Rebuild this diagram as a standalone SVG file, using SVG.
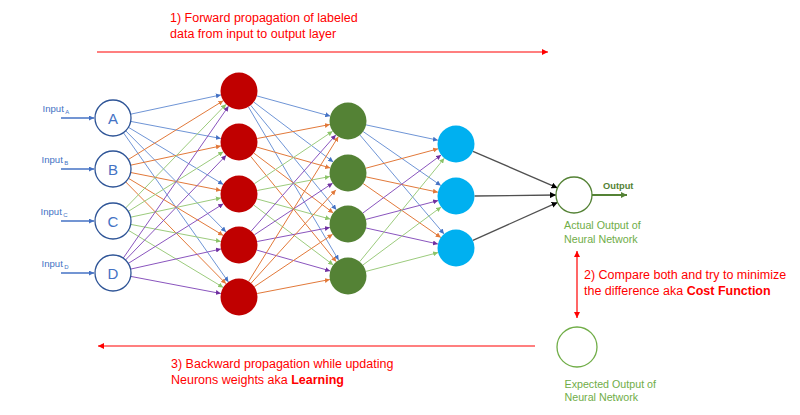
<svg xmlns="http://www.w3.org/2000/svg" width="800" height="415" viewBox="0 0 800 415">
<defs>
<style>
text{font-family:"Liberation Sans",Arial,sans-serif}
.note{fill:#ff0000;font-size:12.5px}
.b{font-weight:bold}
.lbl{fill:#70ad47;font-size:10.7px}
.inl{fill:#4472c4;font-size:9.6px}
.sub{font-size:6px}
.letter{fill:#4472c4;font-size:15px;text-anchor:middle}
.inode{fill:#fff;stroke:#2f5597;stroke-width:1.3}
.red{fill:#c00000}
.grn{fill:#548235}
.blu{fill:#00b0f0}
.c{fill:none;stroke-width:1}
.cb{stroke:#6f95d6;marker-end:url(#mb)}
.co{stroke:#e2793a;marker-end:url(#mo)}
.cg{stroke:#9ccb7d;marker-end:url(#mg)}
.cp{stroke:#8a55be;marker-end:url(#mp)}
.ck{stroke:#505050;stroke-width:1.3;marker-end:url(#mk)}
.cr{fill:none;stroke:#ff0000;stroke-width:1.2}
.ci{fill:none;stroke:#4472c4;stroke-width:1.3;marker-end:url(#mi)}
</style>
<marker id="mb" viewBox="0 0 6 6" refX="6" refY="3" markerWidth="5" markerHeight="5" markerUnits="userSpaceOnUse" orient="auto"><path d="M0,0L6,3L0,6z" fill="#4472c4"/></marker>
<marker id="mo" viewBox="0 0 6 6" refX="6" refY="3" markerWidth="5" markerHeight="5" markerUnits="userSpaceOnUse" orient="auto"><path d="M0,0L6,3L0,6z" fill="#e2793a"/></marker>
<marker id="mg" viewBox="0 0 6 6" refX="6" refY="3" markerWidth="5" markerHeight="5" markerUnits="userSpaceOnUse" orient="auto"><path d="M0,0L6,3L0,6z" fill="#8cc46a"/></marker>
<marker id="mp" viewBox="0 0 6 6" refX="6" refY="3" markerWidth="5" markerHeight="5" markerUnits="userSpaceOnUse" orient="auto"><path d="M0,0L6,3L0,6z" fill="#7030a0"/></marker>
<marker id="mk" viewBox="0 0 6 6" refX="6" refY="3" markerWidth="6" markerHeight="6" markerUnits="userSpaceOnUse" orient="auto"><path d="M0,0L6,3L0,6z" fill="#000"/></marker>
<marker id="mi" viewBox="0 0 6 6" refX="6" refY="3" markerWidth="5" markerHeight="5" markerUnits="userSpaceOnUse" orient="auto"><path d="M0,0L6,3L0,6z" fill="#4472c4"/></marker>
<marker id="mr" viewBox="0 0 6 6" refX="6" refY="3" markerWidth="6" markerHeight="6" markerUnits="userSpaceOnUse" orient="auto-start-reverse"><path d="M0,0L6,3L0,6z" fill="#ff0000"/></marker>
<marker id="mdg" viewBox="0 0 6 6" refX="6" refY="3" markerWidth="6" markerHeight="6" markerUnits="userSpaceOnUse" orient="auto"><path d="M0,0L6,3L0,6z" fill="#548235"/></marker>
</defs>
<rect width="800" height="415" fill="#fff"/>

<g id="connectors">
<!-- input arrows -->
<path class="ci" d="M61,118H94"/>
<path class="ci" d="M61,169H94"/>
<path class="ci" d="M61,221H94"/>
<path class="ci" d="M61,273H94"/>
<!-- A -->
<path class="c cb" d="M130.6,114.2L220.9,94.9"/>
<path class="c cb" d="M130.7,121.4L220.8,138.5"/>
<path class="c cb" d="M128.4,127.3L223.2,184.4"/>
<path class="c cb" d="M125.7,130.8L226.0,231.9"/>
<path class="c cb" d="M123.4,132.7L228.4,281.9"/>
<!-- B -->
<path class="c co" d="M128.3,159.5L223.3,100.7"/>
<path class="c co" d="M130.6,165.2L220.9,145.9"/>
<path class="c co" d="M130.7,172.5L220.9,190.4"/>
<path class="c co" d="M128.4,178.3L223.2,235.4"/>
<path class="c co" d="M125.6,181.8L226.0,283.8"/>
<!-- C -->
<path class="c cg" d="M125.5,208.1L226.1,104.3"/>
<path class="c cg" d="M128.3,211.4L223.3,151.8"/>
<path class="c cg" d="M130.6,217.2L220.9,197.9"/>
<path class="c cg" d="M130.7,224.4L220.8,241.5"/>
<path class="c cg" d="M128.4,230.3L223.2,287.4"/>
<!-- D -->
<path class="c cp" d="M123.2,258.2L228.5,106.2"/>
<path class="c cp" d="M125.5,260.0L226.2,155.3"/>
<path class="c cp" d="M128.3,263.4L223.3,203.8"/>
<path class="c cp" d="M130.6,269.1L220.9,249.0"/>
<path class="c cp" d="M130.7,276.4L220.8,293.5"/>
<!-- R1 -->
<path class="c cb" d="M256.8,95.9L330.2,116.1"/>
<path class="c cb" d="M253.8,102.1L333.2,161.9"/>
<path class="c cb" d="M250.7,105.3L336.3,209.7"/>
<path class="c cb" d="M248.4,106.9L338.6,260.1"/>
<!-- R2 -->
<path class="c co" d="M257.2,138.5L329.8,124.5"/>
<path class="c co" d="M256.8,147.1L330.2,167.9"/>
<path class="c co" d="M253.8,153.1L333.2,212.9"/>
<path class="c co" d="M250.7,156.4L336.3,261.7"/>
<!-- R3 -->
<path class="c cg" d="M254.4,183.7L332.6,131.3"/>
<path class="c cg" d="M257.2,190.5L329.8,176.5"/>
<path class="c cg" d="M256.8,198.9L330.2,219.1"/>
<path class="c cg" d="M253.8,205.1L333.2,264.9"/>
<!-- R4 -->
<path class="c cp" d="M251.2,231.1L335.8,134.9"/>
<path class="c cp" d="M254.4,234.8L332.6,183.2"/>
<path class="c cp" d="M257.2,241.5L329.8,227.5"/>
<path class="c cp" d="M256.8,250.1L330.2,270.9"/>
<!-- R5 -->
<path class="c co" d="M248.7,281.3L338.3,136.7"/>
<path class="c co" d="M251.2,283.1L335.8,189.9"/>
<path class="c co" d="M254.4,286.7L332.6,234.3"/>
<path class="c co" d="M257.2,293.5L329.8,279.5"/>
<!-- G1 -->
<path class="c cb" d="M366.1,124.9L437.9,140.2"/>
<path class="c cb" d="M363.2,131.6L440.8,185.5"/>
<path class="c cb" d="M360.0,135.1L444.0,233.9"/>
<!-- G2 -->
<path class="c co" d="M365.9,168.2L438.1,148.8"/>
<path class="c co" d="M366.1,176.9L437.9,192.2"/>
<path class="c co" d="M363.2,183.6L440.8,237.5"/>
<!-- G3 -->
<path class="c cp" d="M362.9,213.0L441.1,155.0"/>
<path class="c cp" d="M365.9,219.4L438.1,200.6"/>
<path class="c cp" d="M366.1,228.0L437.9,244.0"/>
<!-- G4 -->
<path class="c cg" d="M359.7,261.7L444.3,158.3"/>
<path class="c cg" d="M362.9,265.0L441.1,207.0"/>
<path class="c cg" d="M365.9,271.4L438.1,252.6"/>
<!-- blue to output -->
<path class="c ck" d="M473.0,151.3L557.5,187.9"/>
<path class="c ck" d="M474.5,196L556,195"/>
<path class="c ck" d="M472.9,240.4L557.6,202.4"/>
<!-- output arrow -->
<path d="M592,195H627" fill="none" stroke="#548235" stroke-width="2" marker-end="url(#mdg)"/>
<!-- process arrows -->
<path class="cr" d="M97,52H548" marker-end="url(#mr)"/>
<path class="cr" d="M535,346H98" marker-end="url(#mr)"/>
<path class="cr" d="M577,251V318" marker-start="url(#mr)" marker-end="url(#mr)"/>
</g>

<g id="inA"><circle class="inode" cx="113" cy="118" r="18"/><text class="letter" x="113" y="123.5">A</text>
<text class="inl" x="42.5" y="111.5">Input<tspan class="sub" dx="1.5" dy="2">A</tspan></text></g>
<g id="inB"><circle class="inode" cx="113" cy="169" r="18"/><text class="letter" x="113" y="174.5">B</text>
<text class="inl" x="41.5" y="162.5">Input<tspan class="sub" dx="1.5" dy="2">B</tspan></text></g>
<g id="inC"><circle class="inode" cx="113" cy="221" r="18"/><text class="letter" x="113" y="226.5">C</text>
<text class="inl" x="40.5" y="214.5">Input<tspan class="sub" dx="1.5" dy="2">C</tspan></text></g>
<g id="inD"><circle class="inode" cx="113" cy="273" r="18"/><text class="letter" x="113" y="278.5">D</text>
<text class="inl" x="41.5" y="266.5">Input<tspan class="sub" dx="1.5" dy="2">D</tspan></text></g>

<g id="h1a"><circle class="red" cx="239" cy="91" r="18.5"/></g>
<g id="h1b"><circle class="red" cx="239" cy="142" r="18.5"/></g>
<g id="h1c"><circle class="red" cx="239" cy="194" r="18.5"/></g>
<g id="h1d"><circle class="red" cx="239" cy="245" r="18.5"/></g>
<g id="h1e"><circle class="red" cx="239" cy="297" r="18.5"/></g>

<g id="h2a"><circle class="grn" cx="348" cy="121" r="18.5"/></g>
<g id="h2b"><circle class="grn" cx="348" cy="173" r="18.5"/></g>
<g id="h2c"><circle class="grn" cx="348" cy="224" r="18.5"/></g>
<g id="h2d"><circle class="grn" cx="348" cy="276" r="18.5"/></g>

<g id="h3a"><circle class="blu" cx="456" cy="144" r="18.5"/></g>
<g id="h3b"><circle class="blu" cx="456" cy="196" r="18.5"/></g>
<g id="h3c"><circle class="blu" cx="456" cy="248" r="18.5"/></g>

<g id="actual"><circle cx="574" cy="195" r="18" fill="#fff" stroke="#548235" stroke-width="1.3"/>
<text x="603" y="189" fill="#548235" font-size="9.3px" font-weight="bold">Output</text>
<text class="lbl" x="564" y="229">Actual Output of</text>
<text class="lbl" x="564" y="242.5">Neural Network</text></g>

<g id="expected"><circle cx="577" cy="347" r="20" fill="#fff" stroke="#70ad47" stroke-width="1.3"/>
<text class="lbl" x="564.5" y="387.5">Expected Output of</text>
<text class="lbl" x="564.5" y="401">Neural Network</text></g>

<g id="notes">
<text class="note" x="170" y="22">1) Forward propagation of labeled</text>
<text class="note" x="170" y="37.5">data from input to output layer</text>
<text class="note" x="584" y="278.5">2) Compare both and try to minimize</text>
<text class="note" x="584" y="294.5">the difference aka <tspan class="b">Cost Function</tspan></text>
<text class="note" x="171" y="367.5">3) Backward propagation while updating</text>
<text class="note" x="171" y="384">Neurons weights aka <tspan class="b">Learning</tspan></text>
</g>
</svg>
